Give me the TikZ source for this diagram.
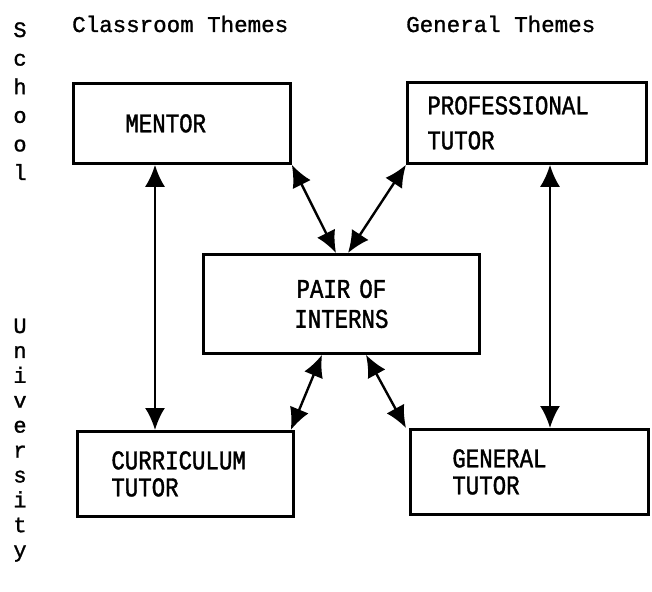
\documentclass[tikz,border=0pt]{standalone}
\usepackage{fontspec}
\setmainfont{Liberation Serif}
\newfontfamily\headfont[FakeBold=1.2]{Liberation Mono}
\newfontfamily\labfont[FakeStretch=0.83,FakeBold=1.4]{Liberation Mono}
\usetikzlibrary{arrows.meta}
\tikzset{
  box/.style={draw, line width=2.8pt, rectangle, anchor=north west, font=\labfont\fontsize{27}{30}\selectfont, inner ysep=0pt},
  tip/.tip={Latex[length=22pt,width=20pt]},
  link/.style={line width=2.4pt, tip-tip},
  head/.style={font=\headfont\fontsize{22.5}{27}\selectfont, anchor=base west, inner sep=0pt},
  side/.style={font=\headfont\fontsize{22}{26}\selectfont, anchor=base, inner sep=0pt}
}
\begin{document}
\begin{tikzpicture}[x=1pt,y=-1pt]
\useasboundingbox (0,0) rectangle (652,591);
% headers
\node[head] (hclass) at (72,32) {Classroom Themes};
\node[head] (hgen) at (406,32) {General Themes};
% side words
\foreach \l [count=\i] in {S,c,h,o,o,l}
  \node[side] (s\i) at (20,{37+28.6*(\i-1)}) {\l};
\foreach \l [count=\i] in {U,n,i,v,e,r,s,i,t,y}
  \node[side] (u\i) at (20,{333+24.9*(\i-1)}) {\l};
% boxes
\node[box, inner xsep=52pt, text width=113pt, minimum height=80pt, align=left] (mentor) at (72,82) {MENTOR};
\node[box, inner xsep=20pt, text width=199pt, minimum height=81pt, align=left, font=\labfont\fontsize{27}{35}\selectfont] (prof) at (406,81) {PROFESSIONAL\\TUTOR};
\node[box, inner xsep=20pt, text width=236pt, minimum height=99pt, align=center] (pair) at (202,253) {PAIR OF\\INTERNS};
\node[box, inner xsep=34pt, text width=148pt, minimum height=85pt, align=left, font=\labfont\fontsize{27}{27}\selectfont] (curr) at (76,430) {CURRICULUM\\TUTOR};
\node[box, inner xsep=42pt, text width=154pt, minimum height=85pt, align=left, font=\labfont\fontsize{27}{27}\selectfont] (gen) at (409,428) {GENERAL\\TUTOR};
% connectors
\draw[link] ([xshift=83pt]mentor.south west) -- ([xshift=79pt]curr.north west);
\draw[link] ([xshift=144pt]prof.south west) -- ([xshift=141pt]gen.north west);
\draw[link] (mentor.south east) -- ([xshift=134pt]pair.north west);
\draw[link] (prof.south west) -- ([xshift=146pt]pair.north west);
\draw[link] ([xshift=-4pt]curr.north east) -- ([xshift=120pt]pair.south west);
\draw[link] ([xshift=-3pt]gen.north west) -- ([xshift=164pt]pair.south west);
\end{tikzpicture}
\end{document}
